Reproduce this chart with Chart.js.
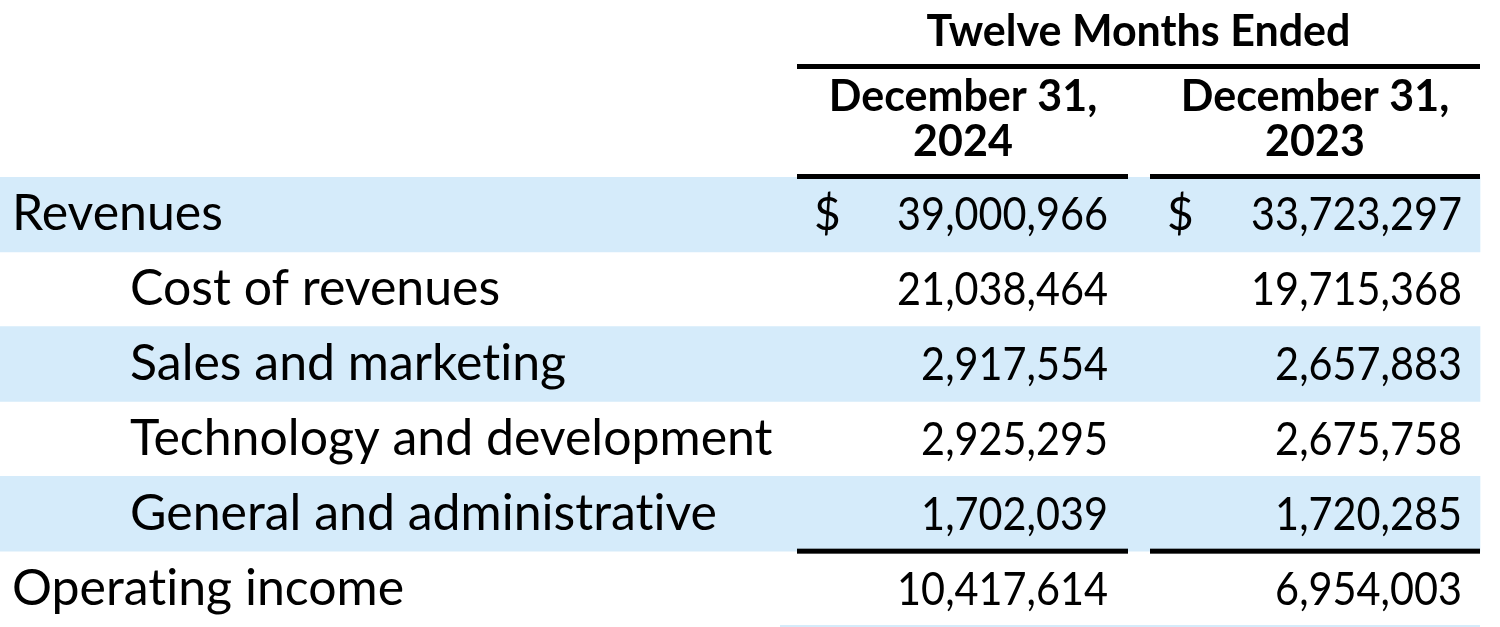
<!DOCTYPE html>
<html>
<head>
<meta charset="utf-8">
<script src="https://cdn.jsdelivr.net/npm/chart.js@4.4.1/dist/chart.umd.min.js"></script>
<style>
  html, body { margin: 0; padding: 0; background: #fff; }
  #wrap { width: 1500px; height: 627px; position: relative; }
</style>
</head>
<body>
<div id="wrap"><canvas id="tbl"></canvas></div>
<script>
// --- data ---
const rowLabels = ['Revenues', 'Cost of revenues', 'Sales and marketing', 'Technology and development', 'General and administrative', 'Operating income'];
const values2024 = [39000966, 21038464, 2917554, 2925295, 1702039, 10417614];
const values2023 = [33723297, 19715368, 2657883, 2675758, 1720285, 6954003];
const periodHeader = 'Twelve Months Ended';
const periodLabels = [['December 31,', '2024'], ['December 31,', '2023']];
const currencyRows = [0];
const indentedRows = [1, 2, 3, 4];
const totalRows = [5];

// --- layout (x in scale units, same as pixels here) ---
const BAND = '#d5ebfa';
const FONT = 'Lato, "Open Sans", sans-serif';
const NUM_SQUEEZE = 0.9; // Lato digits are wider than the original's
const cols = [
  { left: 797, right: 1128, dollar: 814, valRight: 1108, center: 963, values: values2024 },
  { left: 1150, right: 1480, dollar: 1167, valRight: 1462, center: 1315, values: values2023 }
];
const fmt = n => n.toLocaleString('en-US');
// Lato has a "ti" ligature, Calibri does not
const noLig = s => s.replace(/t(?=i)/g, 't\u200C');

const tablePlugin = {
  id: 'tableText',
  afterDatasetsDraw(chart) {
    const { ctx, scales: { x, y }, chartArea } = chart;
    const rowH = y.getPixelForValue(1) - y.getPixelForValue(0);
    const top = chartArea.top;
    ctx.save();
    ctx.fillStyle = '#000';
    ctx.textBaseline = 'alphabetic';

    // header
    ctx.font = 'bold 43px ' + FONT;
    ctx.textAlign = 'center';
    ctx.fillText(periodHeader, x.getPixelForValue((cols[0].left + cols[1].right) / 2), top - 131);
    cols.forEach((c, i) => {
      ctx.fillText(periodLabels[i][0], x.getPixelForValue(c.center), top - 66);
      ctx.fillText(periodLabels[i][1], x.getPixelForValue(c.center), top - 21);
    });

    // rules
    const xl = x.getPixelForValue(cols[0].left), xr = x.getPixelForValue(cols[1].right);
    ctx.fillRect(xl, top - 113, xr - xl, 5);
    const ruleUnder = (yc) => cols.forEach(c => {
      const a = x.getPixelForValue(c.left), b = x.getPixelForValue(c.right);
      ctx.fillRect(a, yc - 2.5, b - a, 5);
    });
    ruleUnder(top - 0.5);
    totalRows.forEach(r => ruleUnder(y.getPixelForValue(r) - rowH / 2));
    ctx.fillStyle = BAND;
    ctx.fillRect(x.getPixelForValue(780), chartArea.bottom - 1, xr - x.getPixelForValue(780), 2);

    // body
    ctx.fillStyle = '#000';
    rowLabels.forEach((lab, r) => {
      const yb = y.getPixelForValue(r) + 16;
      ctx.font = '50px ' + FONT;
      ctx.textAlign = 'left';
      ctx.fillText(noLig(lab), x.getPixelForValue(indentedRows.includes(r) ? 130 : 12), yb);
      ctx.font = '46px ' + FONT;
      cols.forEach(c => {
        if (currencyRows.includes(r)) {
          ctx.textAlign = 'left';
          ctx.fillText('$', x.getPixelForValue(c.dollar), yb);
        }
        const s = fmt(c.values[r]);
        ctx.textAlign = 'right';
        ctx.fillText(s, x.getPixelForValue(c.valRight), yb, ctx.measureText(s).width * NUM_SQUEEZE);
      });
    });
    ctx.restore();
  }
};

new Chart(document.getElementById('tbl'), {
  type: 'bar',
  data: {
    labels: rowLabels,
    datasets: [{
      data: rowLabels.map((_, i) => (i % 2 === 0 ? [0, cols[1].right] : null)),
      backgroundColor: BAND,
      borderWidth: 0,
      barPercentage: 1,
      categoryPercentage: 1
    }]
  },
  options: {
    indexAxis: 'y',
    responsive: true,
    maintainAspectRatio: false,
    animation: false,
    events: [],
    layout: { padding: { top: 177, bottom: 1, left: 0, right: 0 } },
    plugins: { legend: { display: false }, tooltip: { enabled: false } },
    scales: {
      x: { type: 'linear', min: 0, max: 1500, display: false },
      y: { type: 'category', display: false }
    }
  },
  plugins: [tablePlugin]
});
</script>
</body>
</html>
